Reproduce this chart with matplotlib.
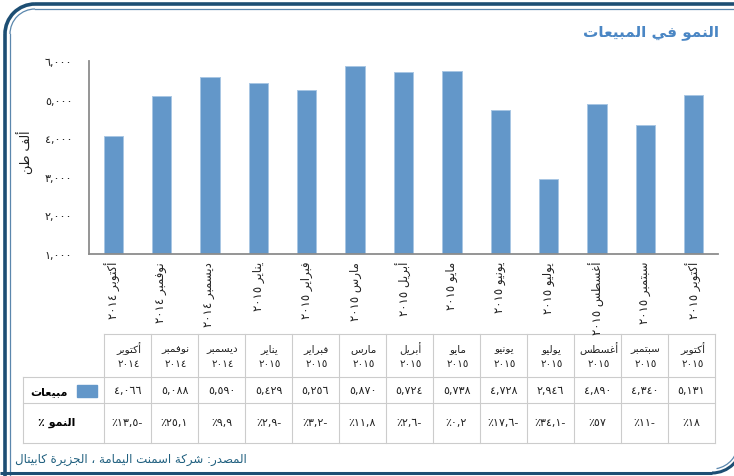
import re
import matplotlib
matplotlib.use('Agg')
import matplotlib.pyplot as plt
from matplotlib.patches import Arc, Rectangle

plt.rcParams['font.family'] = ['DejaVu Sans']

# Datos
meses = ['أكتوبر', 'نوفمبر', 'ديسمبر', 'يناير', 'فبراير', 'مارس', 'أبريل',
         'مايو', 'يونيو', 'يوليو', 'أغسطس', 'سبتمبر', 'أكتوبر']
anios = [2014, 2014, 2014, 2015, 2015, 2015, 2015, 2015, 2015, 2015, 2015, 2015, 2015]
ventas = [4066, 5088, 5590, 5429, 5256, 5870, 5724, 5738, 4728, 2946, 4890, 4340, 5131]
crecimiento = [-13.5, 25.1, 9.9, -2.9, -3.2, 11.8, -2.6, 0.2, -17.6, -34.1, 57, -11, 18]
ticks_y = [1000, 2000, 3000, 4000, 5000, 6000]

titulo = 'النمو في المبيعات'
etiqueta_y = 'ألف طن'
serie = 'مبيعات'
fila_crec = 'النمو ٪'
fuente = 'المصدر: شركة اسمنت اليمامة ، الجزيرة كابيتال'

# formas de presentacion arabes (aislada, final, inicial, medial)
FORMAS = {
    'ا': (0xFE8D, 2), 'أ': (0xFE83, 2), 'ب': (0xFE8F, 4), 'ة': (0xFE93, 2),
    'ت': (0xFE95, 4), 'ج': (0xFE9D, 4), 'د': (0xFEA9, 2), 'ر': (0xFEAD, 2),
    'ز': (0xFEAF, 2), 'س': (0xFEB1, 4), 'ش': (0xFEB5, 4), 'ص': (0xFEB9, 4),
    'ط': (0xFEC1, 4), 'ع': (0xFEC9, 4), 'غ': (0xFECD, 4), 'ف': (0xFED1, 4),
    'ك': (0xFED9, 4), 'ل': (0xFEDD, 4), 'م': (0xFEE1, 4), 'ن': (0xFEE5, 4),
    'ه': (0xFEE9, 4), 'و': (0xFEED, 2), 'ي': (0xFEF1, 4),
}
DIG = str.maketrans('0123456789', '٠١٢٣٤٥٦٧٨٩')


def ar(texto):
    out = []
    for i, ch in enumerate(texto):
        if ch not in FORMAS:
            out.append(ch)
            continue
        base, k = FORMAS[ch]
        prev = texto[i - 1] if i > 0 else ''
        nxt = texto[i + 1] if i < len(texto) - 1 else ''
        jp = prev in FORMAS and FORMAS[prev][1] == 4
        jn = k == 4 and nxt in FORMAS
        if jp and jn:
            cp = base + 3
        elif jp:
            cp = base + 1
        elif jn:
            cp = base + 2
        else:
            cp = base
        out.append(chr(cp))
    s = ''.join(out)[::-1]
    return re.sub(r'[\u0660-\u0669,]+', lambda m: m.group(0)[::-1], s)


def num(v):
    return f'{v:,}'.translate(DIG)


def pct(g):
    t = f'{abs(g):g}'.replace('.', ',').translate(DIG)
    return '٪' + t + ('-' if g < 0 else '')


W, H = 734, 477
fig = plt.figure(figsize=(W / 100, H / 100), dpi=100)

# fondo en pixeles
bg = fig.add_axes([0, 0, 1, 1])
bg.set_xlim(0, W)
bg.set_ylim(H, 0)
bg.axis('off')

oscuro = '#1d4e73'
claro = '#5b87ad'
# marco
bg.plot([5, 5], [35, 480], color=oscuro, lw=2.6, solid_capstyle='butt')
bg.plot([35, 740], [5, 5], color=oscuro, lw=2.6, solid_capstyle='butt')
bg.add_patch(Arc((35, 35), 60, 60, theta1=180, theta2=270, color=oscuro, lw=2.6))
bg.plot([10, 10], [35, 480], color=claro, lw=0.9)
bg.plot([35, 740], [10, 10], color=claro, lw=0.9)
bg.add_patch(Arc((35, 35), 50, 50, theta1=180, theta2=270, color=claro, lw=0.9))
bg.plot([0, 712], [474, 474], color=oscuro, lw=2.2, solid_capstyle='butt')
bg.add_patch(Arc((712, 444), 60, 60, theta1=0, theta2=90, color=oscuro, lw=2.2))
bg.add_patch(Arc((712, 444), 52, 52, theta1=0, theta2=80, color=claro, lw=0.9))

bg.text(719, 33, ar(titulo), ha='right', va='center', fontsize=11,
        fontweight='bold', color='#4a86c4')
bg.text(25, 152, ar(etiqueta_y), rotation=90, ha='center', va='center',
        fontsize=9, color='#222222')

# grafico
x0, x1, yt, yb = 89, 718, 62, 255
ax = fig.add_axes([x0 / W, 1 - yb / H, (x1 - x0) / W, (yb - yt) / H])
pos = list(range(len(ventas)))
ax.bar(pos, ventas, width=0.4, color='#6397c9', edgecolor='#a8c6e4', linewidth=0.7)
ax.set_xlim(-0.5, len(ventas) - 0.5)
ax.set_ylim(ticks_y[0], ticks_y[-1])
ax.set_yticks(ticks_y)
ax.set_yticklabels([num(v) for v in ticks_y], fontsize=8, color='#222222')
ax.set_xticks(pos)
ax.set_xticklabels([ar(f'{m} {str(a).translate(DIG)}') for m, a in zip(meses, anios)],
                   rotation=90, fontsize=8.5, color='#222222', va='top', ha='center')
ax.tick_params(length=0, pad=5)
ax.tick_params(axis='y', pad=12)
for s in ['top', 'right']:
    ax.spines[s].set_visible(False)
for s in ['left', 'bottom']:
    ax.spines[s].set_color('#8c8c8c')
    ax.spines[s].set_linewidth(1.3)
ax.patch.set_alpha(0)

# tabla
gris = '#cccccc'
cx0, cw = 104, 47
bordes = [cx0 + cw * k for k in range(len(ventas) + 1)]
bg.plot([bordes[0], bordes[-1]], [335, 335], color=gris, lw=0.8)
for yy in [378, 404, 444]:
    bg.plot([22.5, bordes[-1]], [yy, yy], color=gris, lw=0.8)
for xx in bordes:
    bg.plot([xx, xx], [335, 444], color=gris, lw=0.8)
bg.plot([22.5, 22.5], [378, 444], color=gris, lw=0.8)

for i in range(len(ventas)):
    xc = bordes[i] + cw / 2
    bg.text(xc + 1, 349, ar(meses[i]), ha='center', va='center', fontsize=7.5, color='#222222')
    bg.text(xc + 1, 364, str(anios[i]).translate(DIG), ha='center', va='center',
            fontsize=7.5, color='#222222')
    bg.text(xc, 391, num(ventas[i]), ha='center', va='center', fontsize=8, color='#222222')
    bg.text(xc, 423, pct(crecimiento[i]), ha='center', va='center', fontsize=8, color='#222222')

bg.add_patch(Rectangle((77, 386), 20, 12, color='#6397c9'))
bg.text(68, 392, ar(serie), ha='right', va='center', fontsize=8, fontweight='bold')
bg.text(57, 423, ar(fila_crec), ha='center', va='center', fontsize=8, fontweight='bold')

bg.text(15, 460, ar(fuente), ha='left', va='center', fontsize=8.5, color='#1f5f7f')

fig.savefig('out.png', dpi=100)
